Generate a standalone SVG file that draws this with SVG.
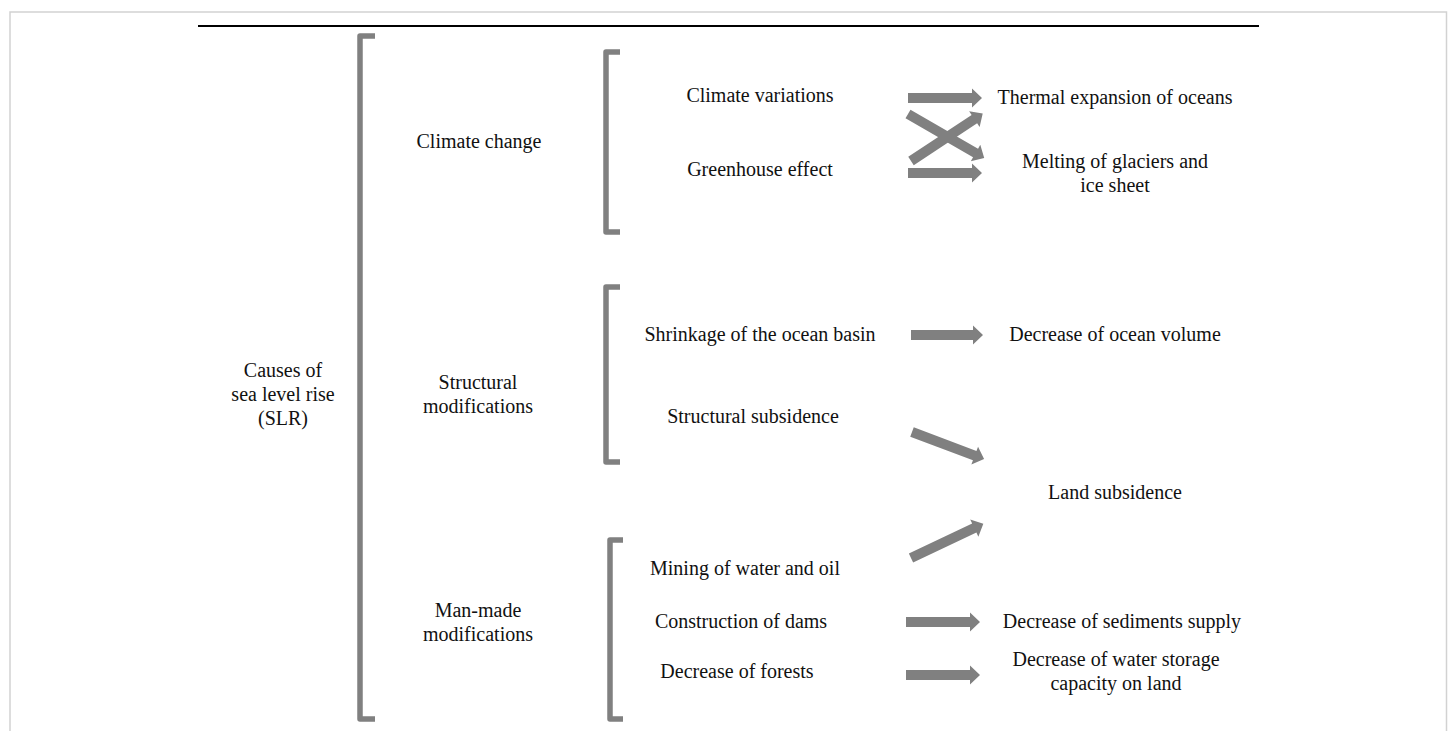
<svg xmlns="http://www.w3.org/2000/svg" width="1452" height="731" viewBox="0 0 1452 731">
<style>
text{font-family:"Liberation Serif","Times New Roman",serif;font-size:20px;fill:#111;text-anchor:middle}
.br{fill:none;stroke:#808080;stroke-width:5.5;stroke-linejoin:round}
.ar{fill:#808080}
</style>
<rect x="0" y="0" width="1452" height="731" fill="#fff"/>
<rect x="10" y="12" width="1436.5" height="740" fill="none" stroke="#d2d2d2" stroke-width="1.5"/>
<line x1="198" y1="26" x2="1259" y2="26" stroke="#000" stroke-width="2"/>
<g id="brackets">
<path class="br" d="M375,36 H360 V719 H375"/>
<path class="br" d="M620,52 H606 V232 H620"/>
<path class="br" d="M620,287 H606 V462 H620"/>
<path class="br" d="M623,540 H610 V719 H623"/>
</g>
<g id="root"><text x="283" y="377">Causes of</text><text x="283" y="401">sea level rise</text><text x="283" y="425">(SLR)</text></g>
<g id="climate-change"><text x="479" y="148">Climate change</text></g>
<g id="structural"><text x="478" y="389">Structural</text><text x="478" y="413">modifications</text></g>
<g id="man-made"><text x="478" y="617">Man-made</text><text x="478" y="641">modifications</text></g>
<g id="climate-variations"><text x="760" y="102">Climate variations</text></g>
<g id="greenhouse"><text x="760" y="176">Greenhouse effect</text></g>
<g id="thermal"><text x="1115" y="104">Thermal expansion of oceans</text></g>
<g id="melting"><text x="1115" y="168">Melting of glaciers and</text><text x="1115" y="192">ice sheet</text></g>
<g id="shrinkage"><text x="760" y="341">Shrinkage of the ocean basin</text></g>
<g id="ocean-volume"><text x="1115" y="341">Decrease of ocean volume</text></g>
<g id="structural-subsidence"><text x="753" y="423">Structural subsidence</text></g>
<g id="land-subsidence"><text x="1115" y="499">Land subsidence</text></g>
<g id="mining"><text x="745" y="575">Mining of water and oil</text></g>
<g id="dams"><text x="741" y="628">Construction of dams</text></g>
<g id="forests"><text x="737" y="678">Decrease of forests</text></g>
<g id="sediments"><text x="1122" y="628">Decrease of sediments supply</text></g>
<g id="water-storage"><text x="1116" y="666">Decrease of water storage</text><text x="1116" y="690">capacity on land</text></g>
<g id="connectors">
<path class="ar" transform="translate(908,98)" d="M0,-5 H64 V-9.5 L74,0 L64,9.5 V5 H0 Z"/>
<path class="ar" transform="translate(908,173)" d="M0,-5 H64 V-9.5 L74,0 L64,9.5 V5 H0 Z"/>
<path class="ar" transform="translate(908,114) rotate(30)" d="M0,-5 H78 V-9.5 L88,0 L78,9.5 V5 H0 Z"/>
<path class="ar" transform="translate(911,161) rotate(-33.5)" d="M0,-5 H76 V-9.5 L86,0 L76,9.5 V5 H0 Z"/>
<path class="ar" transform="translate(911,335)" d="M0,-5 H62 V-9.5 L72,0 L62,9.5 V5 H0 Z"/>
<path class="ar" transform="translate(912,432) rotate(20.6)" d="M0,-5 H67 V-9.5 L77,0 L67,9.5 V5 H0 Z"/>
<path class="ar" transform="translate(911,558) rotate(-25.3)" d="M0,-5 H70 V-9.5 L80,0 L70,9.5 V5 H0 Z"/>
<path class="ar" transform="translate(906,622)" d="M0,-5 H64 V-9.5 L74,0 L64,9.5 V5 H0 Z"/>
<path class="ar" transform="translate(906,675)" d="M0,-5 H64 V-9.5 L74,0 L64,9.5 V5 H0 Z"/>
</g>
</svg>
